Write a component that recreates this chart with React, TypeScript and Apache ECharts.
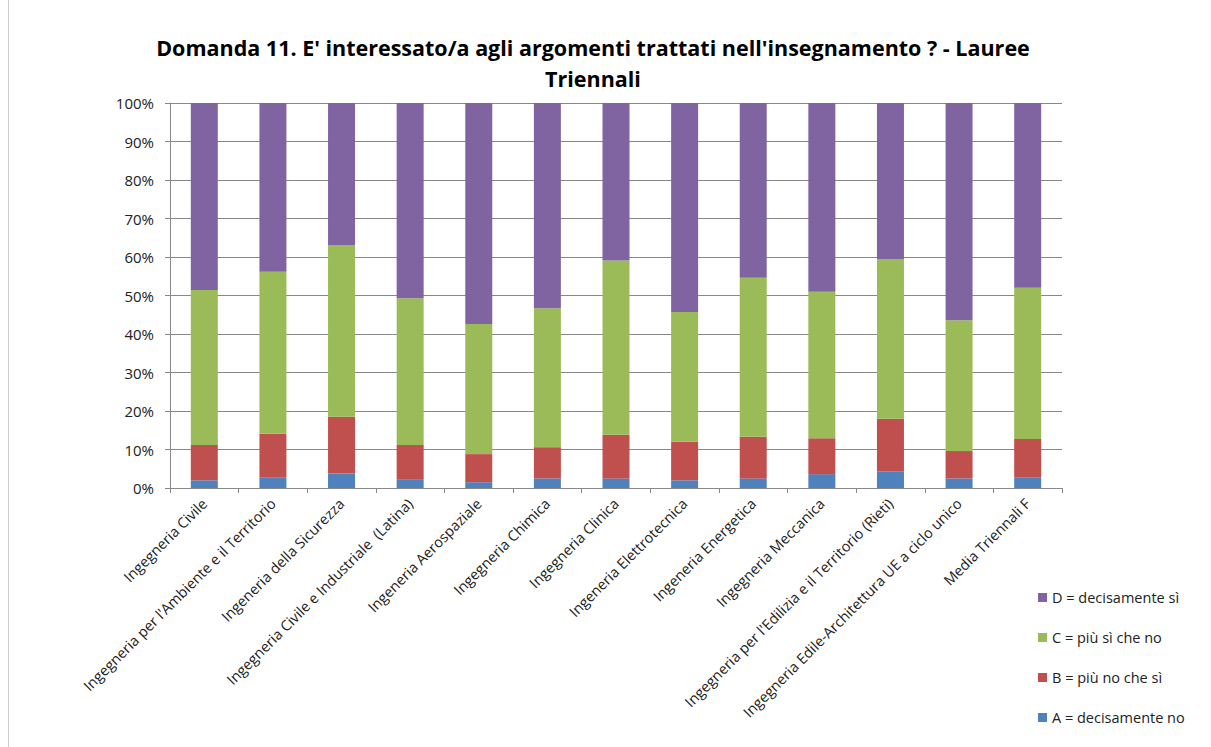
import React, { useEffect, useRef } from "react";
import * as echarts from "echarts";

const categories = [
  "Ingegneria Civile",
  "Ingegneria per l'Ambiente e il Territorio",
  "Ingeneria della Sicurezza",
  "Ingegneria Civile e Industriale  (Latina)",
  "Ingeneria Aerospaziale",
  "Ingegneria Chimica",
  "Ingegneria Clinica",
  "Ingeneria Elettrotecnica",
  "Ingeneria Energetica",
  "Ingegneria Meccanica",
  "Ingegneria per l'Edilizia e il Territorio (Rieti)",
  "Ingegneria Edile-Architettura UE a ciclo unico",
  "Media Triennali F",
];

const seriesNames = [
  "A = decisamente no",
  "B = più no che sì",
  "C = più sì che no",
  "D = decisamente sì",
];

const valuesA = [2.0, 2.8, 3.8, 2.3, 1.5, 2.5, 2.5, 2.0, 2.5, 3.6, 4.3, 2.5, 2.8];
const valuesB = [9.2, 11.3, 14.7, 8.9, 7.3, 8.1, 11.3, 10.0, 10.8, 9.3, 13.7, 7.1, 9.9];
const valuesC = [40.2, 42.1, 44.6, 38.1, 33.8, 36.1, 45.3, 33.7, 41.3, 38.1, 41.5, 34.0, 39.3];
const valuesD = [48.6, 43.8, 36.9, 50.7, 57.4, 53.3, 40.9, 54.3, 45.4, 49.0, 40.5, 56.4, 48.0];

const colors = ["#4F81BD", "#C0504D", "#9BBB59", "#8064A2"];

const titleText =
  "Domanda 11. E' interessato/a agli argomenti trattati nell'insegnamento ? - Lauree\nTriennali";

const FONT = "'Open Sans', sans-serif";

export default function App() {
  const ref = useRef<HTMLDivElement>(null);
  useEffect(() => {
    if (!ref.current) return;
    const chart = echarts.init(ref.current, undefined, { renderer: "svg" });
    const all = [valuesA, valuesB, valuesC, valuesD];
    chart.setOption({
      animation: false,
      backgroundColor: "#ffffff",
      title: {
        text: titleText,
        left: 588,
        textAlign: "center",
        top: 27,
        textStyle: {
          fontFamily: FONT,
          fontSize: 21.5,
          fontWeight: "bold",
          color: "#000",
          lineHeight: 31,
        },
      },
      legend: {
        orient: "vertical",
        left: 1033,
        top: 585,
        itemWidth: 9,
        itemHeight: 9,
        itemGap: 25,
        icon: "rect",
        data: [seriesNames[3], seriesNames[2], seriesNames[1], seriesNames[0]],
        textStyle: { fontFamily: FONT, fontSize: 14.5, color: "#222" },
      },
      grid: { left: 170, right: 149, top: 103, bottom: 259, containLabel: false },
      xAxis: {
        type: "category",
        data: categories,
        axisLine: { lineStyle: { color: "#888" } },
        axisTick: { show: true, alignWithLabel: false, length: 5, lineStyle: { color: "#888" } },
        axisLabel: {
          rotate: 45,
          interval: 0,
          fontFamily: FONT,
          fontSize: 14.5,
          color: "#222",
          margin: 13,
        },
      },
      yAxis: {
        type: "value",
        min: 0,
        max: 100,
        interval: 10,
        axisLine: { show: true, lineStyle: { color: "#888" } },
        axisTick: { show: true, length: 5, lineStyle: { color: "#888" } },
        splitLine: { lineStyle: { color: "#888" } },
        axisLabel: {
          formatter: "{value}%",
          fontFamily: FONT,
          fontSize: 15,
          color: "#222",
          margin: 16,
        },
      },
      series: all.map((vals, i) => ({
        name: seriesNames[i],
        type: "bar",
        stack: "total",
        barWidth: 27,
        data: vals,
        itemStyle: { color: colors[i] },
      })),
      graphic: [
        {
          type: "line",
          shape: { x1: 8.5, y1: 0, x2: 8.5, y2: 747 },
          style: { stroke: "#ccc", lineWidth: 1 },
        },
      ],
    });
    return () => chart.dispose();
  }, []);
  return (
    <div
      ref={ref}
      style={{ position: "fixed", left: 0, top: 0, width: 1211, height: 747 }}
    />
  );
}
